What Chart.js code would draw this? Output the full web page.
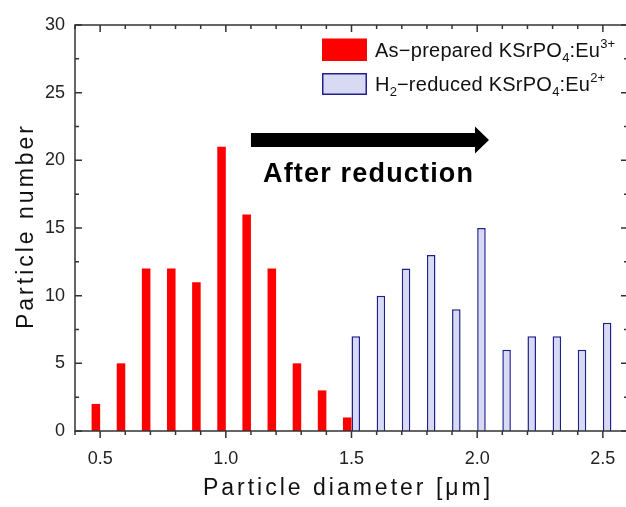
<!DOCTYPE html>
<html><head><meta charset="utf-8">
<script src="https://cdn.jsdelivr.net/npm/chart.js@4.4.1/dist/chart.umd.min.js"></script>
<style>html,body{margin:0;padding:0;background:#fff;overflow:hidden;width:626px;height:507px}canvas{display:block}</style>
</head><body>
<canvas id="c" width="630" height="507"></canvas>
<script>
// Data
const redDiameters = [0.5,0.6,0.7,0.8,0.9,1.0,1.1,1.2,1.3,1.4,1.5];
const redCounts    = [2,5,12,12,11,21,16,12,5,3,1];
const blueDiameters = [1.5,1.6,1.7,1.8,1.9,2.0,2.1,2.2,2.3,2.4,2.5];
const blueCounts    = [7,10,12,13,9,15,6,7,7,6,8];
const xTickLabels = ['0.5','1.0','1.5','2.0','2.5'];
const yTickLabels = ['0','5','10','15','20','25','30'];

const FONT = '"Liberation Sans", Arial, sans-serif';
const RED = '#ff0000';
const BLUE_FILL = 'rgb(216,218,244)';
const BLUE_EDGE = 'rgb(30,32,140)';
const AXIS = '#333';

function fmtX(v){ return (Math.round(v*10)/10).toFixed(1); }

const decor = {
  id:'decor',
  afterDraw(chart){
    const ctx = chart.ctx, a = chart.chartArea;
    const xs = chart.scales.x, ys = chart.scales.y;
    ctx.save();
    // frame
    ctx.strokeStyle = AXIS; ctx.lineWidth = 1.5;
    ctx.strokeRect(a.left, a.top, a.right-a.left, a.bottom-a.top);
    // x ticks
    xs.ticks.forEach(t=>{
      const p = xs.getPixelForValue(t.value);
      const major = xTickLabels.includes(fmtX(t.value));
      const len = major ? 7 : 4;
      ctx.beginPath();
      ctx.moveTo(p, a.bottom); ctx.lineTo(p, a.bottom+len);
      ctx.moveTo(p, a.top); ctx.lineTo(p, a.top+len);
      ctx.stroke();
    });
    ys.ticks.forEach(t=>{
      const p = ys.getPixelForValue(t.value);
      const major = yTickLabels.includes(String(t.value));
      const len = major ? 7 : 4;
      ctx.beginPath();
      ctx.moveTo(a.left, p); ctx.lineTo(a.left+len, p);
      ctx.moveTo(a.right, p); ctx.lineTo(a.right-len, p);
      ctx.stroke();
    });
    // axis titles
    ctx.fillStyle = '#111';
    ctx.font = '23px ' + FONT;
    ctx.letterSpacing = '3px';
    ctx.textAlign = 'center'; ctx.textBaseline = 'alphabetic';
    ctx.fillText('Particle diameter [\u03bcm]', 348, 495);
    ctx.save();
    ctx.translate(33, (a.top+a.bottom)/2 - 2);
    ctx.rotate(-Math.PI/2);
    ctx.fillText('Particle number', 0, 0);
    ctx.restore();
    // arrow
    const y0 = ys.getPixelForValue(21.5);
    const xs0 = xs.getPixelForValue(1.10);
    const xtip = xs.getPixelForValue(2.047);
    ctx.fillStyle = '#000';
    ctx.beginPath();
    ctx.moveTo(xs0, y0-7); ctx.lineTo(xtip-14, y0-7); ctx.lineTo(xtip-14, y0-13.5);
    ctx.lineTo(xtip, y0); ctx.lineTo(xtip-14, y0+13.5); ctx.lineTo(xtip-14, y0+7);
    ctx.lineTo(xs0, y0+7); ctx.closePath(); ctx.fill();
    // annotation text
    ctx.font = 'bold 27px ' + FONT;
    ctx.letterSpacing = '0px';
    const atxt = 'After reduction';
    const aw = ctx.measureText(atxt).width;
    ctx.letterSpacing = ((210 - aw) / (atxt.length - 1)).toFixed(2) + 'px';
    ctx.textAlign = 'left';
    ctx.fillText(atxt, 263, ys.getPixelForValue(18.42));
    // legend
    ctx.fillStyle = RED;
    ctx.fillRect(322, 38.5, 45, 22.5);
    ctx.fillStyle = BLUE_FILL;
    ctx.fillRect(322, 73, 45, 22);
    ctx.strokeStyle = BLUE_EDGE; ctx.lineWidth = 1.5;
    ctx.strokeRect(322.75, 73.75, 43.5, 20.5);
    const line1 = [['As\u2212prepared KSrPO',''],['4','sub'],[':Eu',''],['3+','sup']];
    const line2 = [['H',''],['2','sub'],['\u2212reduced KSrPO',''],['4','sub'],[':Eu',''],['2+','sup']];
    function partFont(kind){ return (kind ? 13 : 20) + 'px ' + FONT; }
    function measureRich(parts){
      let w = 0, n = 0;
      ctx.letterSpacing = '0px';
      parts.forEach(([txt, kind])=>{
        ctx.font = partFont(kind);
        w += ctx.measureText(txt).width;
        if(!kind) n += txt.length;
      });
      return {w, n};
    }
    const m1 = measureRich(line1);
    const ls = (240 - m1.w) / m1.n;
    function rich(parts, x, y){
      ctx.textAlign = 'left';
      parts.forEach(([txt, kind])=>{
        let dy = 0;
        if(kind==='sub') dy = 5;
        if(kind==='sup') dy = -9;
        ctx.font = partFont(kind);
        ctx.letterSpacing = '0px';
        const w = ctx.measureText(txt).width;
        const sp = kind ? 0 : ls;
        ctx.letterSpacing = sp.toFixed(2) + 'px';
        ctx.fillText(txt, x, y+dy);
        x += w + sp * txt.length;
      });
    }
    ctx.fillStyle = '#111';
    rich(line1, 375, 57);
    rich(line2, 375, 91);
    ctx.restore();
  }
};

const tickFont = {family: FONT, size: 18};

new Chart(document.getElementById('c'), {
  type: 'bar',
  data: {
    datasets: [
      { label: 'As-prepared KSrPO4:Eu3+',
        data: redDiameters.map((d,i)=>({x:d, y:redCounts[i]})),
        backgroundColor: RED, borderWidth: 0 },
      { label: 'H2-reduced KSrPO4:Eu2+',
        data: blueDiameters.map((d,i)=>({x:d, y:blueCounts[i]})),
        backgroundColor: BLUE_FILL, borderColor: BLUE_EDGE, borderWidth: 1.5 }
    ]
  },
  options: {
    responsive: false, animation: false, devicePixelRatio: 1,
    categoryPercentage: 0.68, barPercentage: 1.0,
    layout: { padding: { top: 25, right: 2, left: 0, bottom: 0 } },
    plugins: { legend: { display: false }, tooltip: { enabled: false } },
    scales: {
      x: {
        type: 'linear', min: 0.4, max: 2.6, offset: false,
        grid: { display: false, drawTicks: true, tickLength: 17 }, border: { display: false },
        ticks: { stepSize: 0.1, autoSkip: false, maxRotation: 0, padding: 0,
          color: '#222', font: tickFont,
          callback: v => xTickLabels.includes(fmtX(v)) ? fmtX(v) : '' },
        afterFit: s => { s.height = 76; }
      },
      y: {
        min: 0, max: 30,
        grid: { display: false, drawTicks: false }, border: { display: false },
        ticks: { stepSize: 2.5, padding: 10, color: '#222', font: tickFont,
          callback: v => yTickLabels.includes(String(v)) ? String(v) : '' },
        afterFit: s => { s.width = 75; }
      }
    }
  },
  plugins: [decor]
});
</script>
</body></html>
